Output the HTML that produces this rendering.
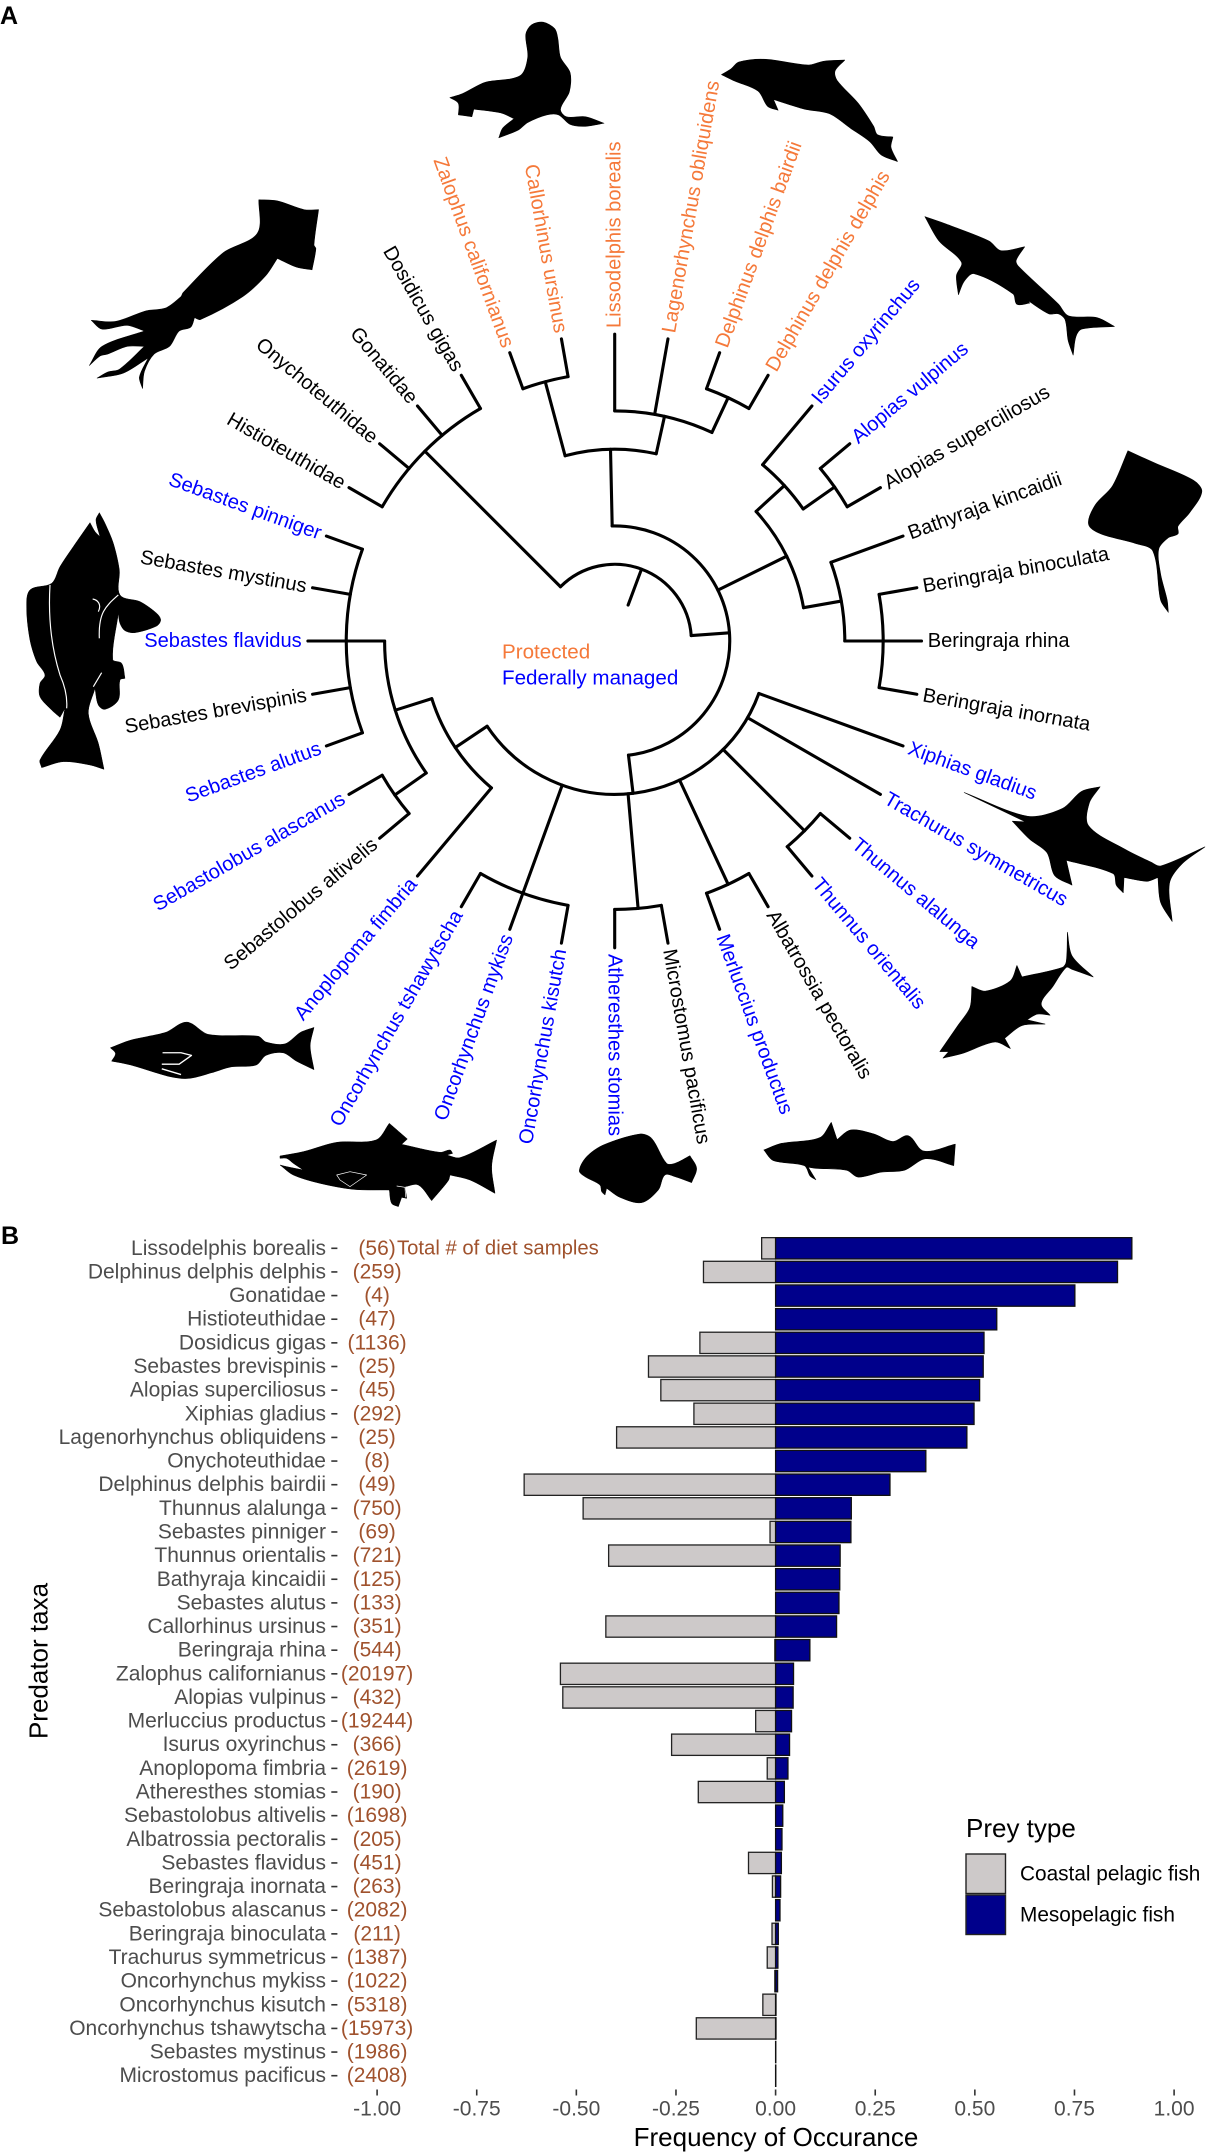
<!DOCTYPE html>
<html lang="en">
<head>
<meta charset="utf-8">
<title>Predator phylogeny and prey frequency of occurrence</title>
<style>
html,body{margin:0;padding:0;background:#fff;}
svg{display:block;font-family:"Liberation Sans",sans-serif;}
</style>
</head>
<body>
<svg id="figure" xmlns="http://www.w3.org/2000/svg" width="1208" height="2153" viewBox="0 0 1208 2153">
<rect x="0" y="0" width="1208" height="2153" fill="#ffffff"/>
<text x="0" y="24" font-size="25" font-weight="700" fill="#000">A</text>
<text x="1" y="1244" font-size="25" font-weight="700" fill="#000">B</text>

<g id="silhouettes" fill="#000" stroke="#000" stroke-width="1.5" stroke-linejoin="round">
<g transform="scale(.3852,.3827)">
<path d="M1168,255 L1200,245 L1260,215 L1350,198 L1370,150 L1365,90 L1380,65 L1410,58 L1440,75 L1448,100 L1455,150 L1480,190 L1478,240 L1455,285 L1470,305 L1520,305 L1568,322 L1520,330 L1480,325 L1450,300 L1420,300 L1370,320 L1345,340 L1295,360 L1305,335 L1335,310 L1300,295 L1230,285 L1225,305 L1190,300 L1190,270 Z"/>
</g>
<g transform="translate(604,0) scale(.3852,.3827)">
<path d="M305,195 L330,180 L350,162 L420,155 L530,170 L570,160 L625,157 L600,185 L605,210 L660,270 L700,330 L710,352 L750,358 L745,385 L762,422 L720,405 L690,370 L640,335 L585,297 L520,285 L440,260 L452,288 L425,278 L400,238 L340,212 Z"/>
</g>
<g transform="translate(604,0) scale(.3852,.3827)">
<path d="M833,566 L900,590 L1000,630 L1030,655 L1092,645 L1070,680 L1075,695 L1180,795 L1205,825 L1280,830 L1325,853 L1240,860 L1225,880 L1218,928 L1205,890 L1197,835 L1180,820 L1155,820 L1100,785 L1105,792 L1072,795 L1062,768 L960,715 L935,735 L920,770 L915,720 L928,685 L870,630 Z"/>
</g>
<g transform="translate(604,0) scale(.3852,.3827)">
<path d="M1360,1178 L1430,1210 L1530,1255 L1552,1285 L1520,1340 L1490,1375 L1490,1395 L1465,1405 L1440,1435 L1445,1500 L1462,1568 L1465,1600 L1445,1568 L1425,1440 L1380,1420 L1290,1395 L1258,1370 L1275,1320 L1320,1270 Z"/>
</g>
<g transform="scale(.3852,.3827)">
<path d="M672,522 L720,525 L790,548 L827,548 L815,640 L820,650 L810,705 L770,698 L720,675 L690,720 L630,775 L520,835 L505,830 L495,855 L465,865 L440,905 L400,925 L375,970 L370,1015 L362,985 L385,935 L320,975 L252,988 L280,972 L310,965 L375,905 L330,905 L280,925 L260,930 L232,955 L265,905 L375,865 L330,850 L265,860 L237,837 L300,840 L380,812 L430,805 L470,775 L475,765 L580,660 L668,610 Z"/>
</g>
<g transform="translate(10,500) scale(.3333)">
<path d="M268,38 L285,70 L310,130 L328,210 L330,285 L390,305 L440,340 L452,360 L440,378 L375,398 L345,392 L330,370 L325,340 L308,478 L335,490 L345,535 L330,540 L325,600 L285,628 L265,615 L255,565 L235,640 L265,730 L282,808 L240,795 L160,785 L95,803 L90,780 L150,690 L165,625 L150,652 L125,630 L90,590 L90,550 L105,525 L80,485 L60,420 L50,325 L60,270 L125,250 L150,200 L190,140 L240,68 L255,95 L270,110 L258,60 Z"/>
<path fill="none" stroke="#fff" stroke-width="3.5" d="M120,255 C115,340 120,430 150,525 C170,570 172,600 170,625 M325,285 C285,320 265,340 268,415 M248,297 C265,300 275,315 265,335 M275,518 L250,560"/>
</g>
<g transform="translate(0,600) scale(.3852,.3827)">
<path d="M287,1170 L340,1150 L430,1130 L485,1103 L540,1135 L670,1140 L690,1155 L740,1160 L780,1130 L815,1117 L805,1165 L815,1227 L770,1205 L735,1183 L690,1190 L665,1215 L600,1220 L550,1235 L490,1250 L440,1245 L340,1215 L290,1205 L300,1185 Z"/>
<path fill="none" stroke="#fff" stroke-width="3.5" d="M422,1183 L470,1183 L497,1190 L465,1213 L420,1213 M420,1225 L470,1240"/>
</g>
<g transform="translate(270,1110) scale(.3333)">
<path d="M30,138 L100,125 L200,97 L318,90 L358,40 L412,87 L395,103 L510,127 L540,120 L548,130 L530,135 L570,143 L680,90 L665,170 L675,250 L600,210 L540,195 L535,212 L485,272 L445,225 L405,230 L410,265 L395,262 L385,290 L365,280 L358,240 L250,238 L150,220 L70,195 L30,165 L50,170 L100,180 L70,160 L50,145 L30,145 Z"/>
<path fill="none" stroke="#fff" stroke-width="2" d="M200,195 L240,185 L290,195 L240,230 L210,210 Z M380,228 L405,232 L407,262"/>
</g>
<g transform="translate(270,1110) scale(.3333)">
<path d="M928,182 L950,140 L1000,105 L1110,72 L1145,85 L1190,160 L1215,160 L1260,137 L1280,175 L1265,218 L1215,200 L1185,195 L1165,240 L1115,278 L1050,262 L1010,235 L1005,255 L995,245 L990,225 L945,200 Z"/>
</g>
<g transform="translate(604,600) scale(.3852,.3827)">
<path d="M415,1437 L460,1420 L560,1405 L590,1365 L605,1410 L640,1385 L700,1395 L750,1415 L790,1400 L830,1440 L912,1422 L908,1478 L835,1460 L780,1490 L720,1495 L660,1508 L630,1490 L550,1485 L530,1482 L550,1515 L535,1505 L520,1478 L440,1465 Z"/>
</g>
<g transform="translate(604,600) scale(.3852,.3827)">
<path d="M935,503 L1100,565 L1190,545 L1240,500 L1288,488 L1260,530 L1258,590 L1350,650 L1420,685 L1445,695 L1560,645 L1500,690 L1468,740 L1475,840 L1445,790 L1438,725 L1410,735 L1350,725 L1348,765 L1330,745 L1322,715 L1200,680 L1215,745 L1170,720 L1150,660 L1105,625 L1060,578 L1095,580 Z"/>
</g>
<g transform="translate(604,600) scale(.3852,.3827)">
<path d="M1203,868 L1215,930 L1270,985 L1215,965 L1200,960 L1165,1010 L1135,1055 L1158,1085 L1125,1082 L1098,1097 L1145,1108 L1085,1112 L1040,1145 L1055,1172 L1015,1155 L930,1185 L880,1197 L895,1180 L872,1180 L920,1110 L950,1065 L955,1010 L990,1022 L1055,995 L1072,955 L1085,985 L1190,960 L1200,945 Z"/>
</g>
</g>

<g id="tree"></g>
<g id="tip-labels"></g>
<text x="502" y="652" font-size="20.6" fill="#f5793a" dominant-baseline="central">Protected</text>
<text x="502" y="678" font-size="20.6" fill="#0000ff" dominant-baseline="central">Federally managed</text>

<g id="bar-chart"></g>

<text x="776" y="2137" font-size="26" fill="#000" text-anchor="middle" dominant-baseline="central">Frequency of Occurance</text>
<text transform="translate(38.5,1661) rotate(-90)" font-size="26" fill="#000" text-anchor="middle" dominant-baseline="central">Predator taxa</text>
<text x="397" y="1248.3" font-size="20.3" fill="#a0522d" dominant-baseline="central">Total # of diet samples</text>

<g>
<text x="966" y="1828" font-size="26" fill="#000" dominant-baseline="central">Prey type</text>
<rect x="966" y="1854" width="39.5" height="39.5" fill="#cdc9c9" stroke="#222" stroke-width="1.4"/>
<rect x="966" y="1895" width="39.5" height="39.5" fill="#00008b" stroke="#222" stroke-width="1.4"/>
<text x="1020" y="1874" font-size="20.8" fill="#000" dominant-baseline="central">Coastal pelagic fish</text>
<text x="1020" y="1915" font-size="20.8" fill="#000" dominant-baseline="central">Mesopelagic fish</text>
</g>
</svg>

<script>
// ---------- Tree data ----------
const tipNames = ["Histioteuthidae","Onychoteuthidae","Gonatidae","Dosidicus gigas","Zalophus californianus","Callorhinus ursinus","Lissodelphis borealis","Lagenorhynchus obliquidens","Delphinus delphis bairdii","Delphinus delphis delphis","Isurus oxyrinchus","Alopias vulpinus","Alopias superciliosus","Bathyraja kincaidii","Beringraja binoculata","Beringraja rhina","Beringraja inornata","Xiphias gladius","Trachurus symmetricus","Thunnus alalunga","Thunnus orientalis","Albatrossia pectoralis","Merluccius productus","Microstomus pacificus","Atheresthes stomias","Oncorhynchus kisutch","Oncorhynchus mykiss","Oncorhynchus tshawytscha","Anoplopoma fimbria","Sebastolobus altivelis","Sebastolobus alascanus","Sebastes alutus","Sebastes brevispinis","Sebastes flavidus","Sebastes mystinus","Sebastes pinniger"];
const tipStatus = ["n","n","n","n","p","p","p","p","p","p","f","f","n","n","n","n","n","f","f","f","f","n","f","n","f","f","f","f","f","n","f","f","n","f","n","f"];
// Nested clades: [depth, child, child, ...]; a number is an index into tipNames.
const treeClades = [2,
  [7,0,1,2,3],
  [3,
    [5,[7,4,5],[6,6,7,[7,8,9]]],
    [5,[6,10,[7,11,12]],[6,13,[7,14,15,16]]],
    [4,17,18,[7,19,20],[7,21,22],[7,23,24],[7,25,26,27],
      [5,28,[6,[7,29,30],[7,31,32,33,34,35]]]]
  ]
];

// ---------- Bar chart data ----------
const predators = ["Lissodelphis borealis","Delphinus delphis delphis","Gonatidae","Histioteuthidae","Dosidicus gigas","Sebastes brevispinis","Alopias superciliosus","Xiphias gladius","Lagenorhynchus obliquidens","Onychoteuthidae","Delphinus delphis bairdii","Thunnus alalunga","Sebastes pinniger","Thunnus orientalis","Bathyraja kincaidii","Sebastes alutus","Callorhinus ursinus","Beringraja rhina","Zalophus californianus","Alopias vulpinus","Merluccius productus","Isurus oxyrinchus","Anoplopoma fimbria","Atheresthes stomias","Sebastolobus altivelis","Albatrossia pectoralis","Sebastes flavidus","Beringraja inornata","Sebastolobus alascanus","Beringraja binoculata","Trachurus symmetricus","Oncorhynchus mykiss","Oncorhynchus kisutch","Oncorhynchus tshawytscha","Sebastes mystinus","Microstomus pacificus"];
const sampleCounts = [56,259,4,47,1136,25,45,292,25,8,49,750,69,721,125,133,351,544,20197,432,19244,366,2619,190,1698,205,451,263,2082,211,1387,1022,5318,15973,1986,2408];
const mesopelagic = [0.894,0.858,0.751,0.555,0.523,0.521,0.512,0.498,0.480,0.377,0.287,0.190,0.189,0.162,0.161,0.159,0.153,0.086,0.045,0.044,0.040,0.035,0.031,0.022,0.018,0.016,0.0145,0.0126,0.011,0.0068,0.0058,0.005,0.001,0.001,0.0005,0.0005];
const coastal = [0.035,0.181,0,0,0.190,0.319,0.288,0.205,0.399,0,0.631,0.483,0.014,0.419,0,0,0.426,0.002,0.540,0.534,0.050,0.261,0.021,0.194,0,0,0.068,0.008,0,0.009,0.021,0.002,0.032,0.199,0,0];
const xTickValues = [-1,-0.75,-0.5,-0.25,0,0.25,0.5,0.75,1];
const xTickLabels = ["-1.00","-0.75","-0.50","-0.25","0.00","0.25","0.50","0.75","1.00"];

const NS = "http://www.w3.org/2000/svg";
function mk(parent, tag, attrs, txt) {
  const e = document.createElementNS(NS, tag);
  for (const k in attrs) e.setAttribute(k, attrs[k]);
  if (txt !== undefined) e.textContent = txt;
  parent.appendChild(e);
  return e;
}

// ---------- Smooth silhouette outlines (keeps sharp tips as corners) ----------
document.querySelectorAll('#silhouettes path:not([fill])').forEach(path => {
  const pts = path.getAttribute('d').match(/-?[\d.]+,-?[\d.]+/g).map(s => s.split(',').map(Number));
  const n = pts.length;
  const unit = (a, b) => { const dx = b[0]-a[0], dy = b[1]-a[1], l = Math.hypot(dx,dy) || 1; return [dx/l, dy/l, l]; };
  let d = `M${pts[0][0]},${pts[0][1]}`;
  for (let i = 0; i < n; i++) {
    const p0 = pts[(i-1+n)%n], p1 = pts[i], p2 = pts[(i+1)%n], p3 = pts[(i+2)%n];
    const seg = unit(p1,p2);
    const in1 = unit(p0,p1), in2 = unit(p2,p3);
    const sharp1 = in1[0]*seg[0]+in1[1]*seg[1] < 0.25;
    const sharp2 = seg[0]*in2[0]+seg[1]*in2[1] < 0.25;
    const t1 = sharp1 ? seg : unit(p0,p2);
    const t2 = sharp2 ? seg : unit(p1,p3);
    const k = seg[2]*0.3;
    d += ` C${p1[0]+t1[0]*k},${p1[1]+t1[1]*k} ${p2[0]-t2[0]*k},${p2[1]-t2[1]*k} ${p2[0]},${p2[1]}`;
  }
  path.setAttribute('d', d + ' Z');
});

// ---------- Polar tree ----------
const CX = 614.7, CY = 641, STEP = 38.35, TIP_DEPTH = 8, LABEL_R = 313;
const treeG = document.getElementById("tree");
const labelG = document.getElementById("tip-labels");
const rad = d => d * STEP;
const tipAngle = i => 150 - 10 * i;
function polar(r, a) {
  const t = a * Math.PI / 180;
  return [CX + r * Math.cos(t), CY - r * Math.sin(t)];
}
function segment(r0, r1, a) {
  const p = polar(r0, a), q = polar(r1, a);
  const el = mk(treeG, "path", {d: `M${p[0]},${p[1]} L${q[0]},${q[1]}`, fill: "none", stroke: "#000", "stroke-width": 3.1, "stroke-linecap": "round"});
  
  
}
function arc(r, a0, a1) {
  const p = polar(r, a0), q = polar(r, a1);
  const el = mk(treeG, "path", {d: `M${p[0]},${p[1]} A${r},${r} 0 0 1 ${q[0]},${q[1]}`, fill: "none", stroke: "#000", "stroke-width": 3.1, "stroke-linecap": "round"});
  
  
}
function nodeAngle(n) {
  if (typeof n === "number") return tipAngle(n);
  return (nodeAngle(n[1]) + nodeAngle(n[n.length - 1])) / 2;
}
function drawNode(n, parentDepth) {
  const a = nodeAngle(n);
  if (typeof n === "number") { segment(rad(parentDepth), rad(TIP_DEPTH), a); return; }
  const depth = n[0];
  segment(rad(parentDepth), rad(depth), a);
  arc(rad(depth), nodeAngle(n[1]), nodeAngle(n[n.length - 1]));
  for (let i = 1; i < n.length; i++) drawNode(n[i], depth);
}
drawNode(treeClades, 1);

const statusColor = {p: "#f5793a", f: "#0000ff", n: "#000000"};
tipNames.forEach((name, i) => {
  let a = tipAngle(i);
  const p = polar(LABEL_R, a);
  const norm = ((a % 360) + 360) % 360;
  const rightSide = norm <= 90 || norm >= 270;
  const rot = rightSide ? -a : 180 - a;
  const el = mk(labelG, "text", {
    transform: `translate(${p[0]},${p[1]}) rotate(${rot})`,
    "font-size": 20.1,
    fill: statusColor[tipStatus[i]],
    "text-anchor": rightSide ? "start" : "end",
    "dominant-baseline": "central"
  }, name);
  
  
});

// ---------- Bar chart ----------
const chartG = document.getElementById("bar-chart");
const x = v => 775.6 + 398.5 * v;
const rowY = i => 1248.3 + 23.64 * i;
const BAR_H = 21.3;
predators.forEach((name, i) => {
  const y = rowY(i);
  const lab = mk(chartG, "text", {x: 326, y: y, "font-size": 21, fill: "#4d4d4d", "text-anchor": "end", "dominant-baseline": "central"}, name);
  
  
  const tick = mk(chartG, "line", {x1: 331.3, x2: 337.4, y1: y, y2: y, stroke: "#333", "stroke-width": 1.6});
  
  
  const cnt = mk(chartG, "text", {x: x(-1), y: y, "font-size": 21, fill: "#a0522d", "text-anchor": "middle", "dominant-baseline": "central"}, "(" + sampleCounts[i] + ")");
  
  
  if (coastal[i] > 0) {
    const b = mk(chartG, "rect", {x: x(-coastal[i]), y: y - BAR_H / 2, width: x(0) - x(-coastal[i]), height: BAR_H, fill: "#cdc9c9", stroke: "#222", "stroke-width": 1.3});
    
    
  }
  if (mesopelagic[i] > 0) {
    const b = mk(chartG, "rect", {x: x(0), y: y - BAR_H / 2, width: x(mesopelagic[i]) - x(0), height: BAR_H, fill: "#00008b", stroke: "#111", "stroke-width": 1.3});
    
    
  }
});
xTickValues.forEach((v, i) => {
  const t = mk(chartG, "line", {x1: x(v), x2: x(v), y1: 2089.5, y2: 2095.5, stroke: "#333", "stroke-width": 1.6});
  
  
  const l = mk(chartG, "text", {x: x(v), y: 2109, "font-size": 21, fill: "#4d4d4d", "text-anchor": "middle", "dominant-baseline": "central"}, xTickLabels[i]);
  
  
});
</script>
</body>
</html>
